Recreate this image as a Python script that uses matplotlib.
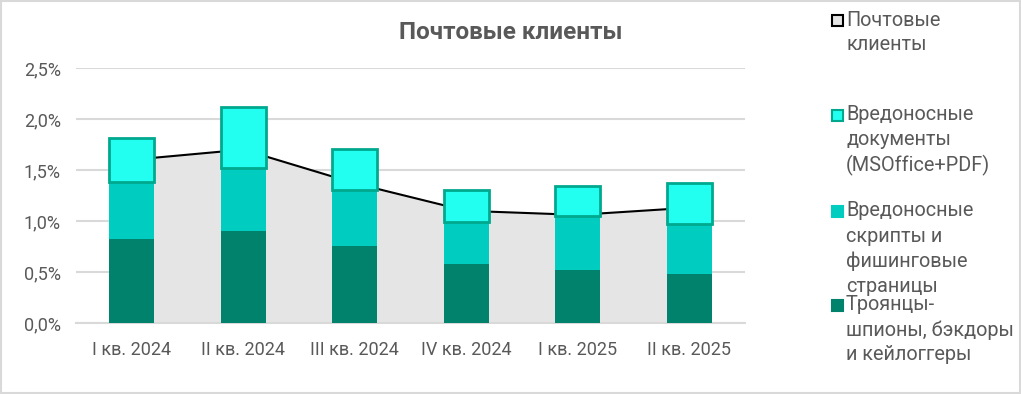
import matplotlib
matplotlib.use("Agg")
import matplotlib.pyplot as plt
from matplotlib.patches import Rectangle
from matplotlib.ticker import FuncFormatter

plt.rcParams['font.family'] = ['Roboto', 'DejaVu Sans']

# Данные (в процентах)
kvartaly = ['I кв. 2024', 'II кв. 2024', 'III кв. 2024', 'IV кв. 2024', 'I кв. 2025', 'II кв. 2025']
pochtovye = [1.60, 1.70, 1.37, 1.10, 1.06, 1.13]
trojany = [0.82, 0.90, 0.755, 0.58, 0.52, 0.48]
skripty = [0.565, 0.62, 0.545, 0.41, 0.53, 0.49]
dokumenty = [0.43, 0.60, 0.41, 0.31, 0.29, 0.40]

leyenda = [['Почтовые', 'клиенты'],
           ['Вредоносные', 'документы', '(MSOffice+PDF)'],
           ['Вредоносные', 'скрипты и', 'фишинговые', 'страницы'],
           ['Троянцы-', 'шпионы, бэкдоры', 'и кейлоггеры']]

c_dark = '#00826C'
c_mid = '#00CCC0'
c_top = '#22FFF0'
c_edge = '#00A88E'
c_area = '#E5E5E5'
c_text = '#595959'
c_grid = '#D9D9D9'

fig = plt.figure(figsize=(10.21, 3.94), dpi=100)
ax = fig.add_axes([0.0744, 0.1802, 0.6553, 0.6472])

x = list(range(len(kvartaly)))
ax.fill_between(x, pochtovye, 0, color=c_area, zorder=1, linewidth=0)
ax.plot(x, pochtovye, color='black', linewidth=1.5, zorder=2)

w = 0.4
ax.bar(x, trojany, width=w, color=c_dark, zorder=3)
ax.bar(x, skripty, width=w, bottom=trojany, color=c_mid, zorder=3)
base3 = [a + b for a, b in zip(trojany, skripty)]
ax.bar(x, dokumenty, width=w, bottom=base3, color=c_top, edgecolor=c_edge,
       linewidth=2, zorder=4)

ax.set_xlim(-0.5, len(kvartaly) - 0.5)
ax.set_ylim(0, 2.5)
ax.set_yticks([0, 0.5, 1.0, 1.5, 2.0, 2.5])
ax.yaxis.set_major_formatter(FuncFormatter(lambda v, p: f'{v:.1f}%'.replace('.', ',')))
ax.set_xticks(x)
ax.set_xticklabels(kvartaly)
ax.tick_params(axis='both', length=0, colors=c_text, labelsize=13)
ax.tick_params(axis='x', pad=13)
ax.tick_params(axis='y', pad=11)
ax.grid(axis='y', color=c_grid, linewidth=1.5, zorder=0)
ax.set_axisbelow(True)
for s in ['top', 'right', 'left']:
    ax.spines[s].set_visible(False)
ax.spines['bottom'].set_color(c_grid)
ax.spines['bottom'].set_linewidth(1.5)

fig.text(0.5, 0.918, 'Почтовые клиенты', ha='center', va='center',
         fontsize=17.5, fontweight='bold', color=c_text)

# Leyenda manual
W, H = 1021, 394
colores = [(c_area, 'black'), (c_top, c_edge), (c_mid, c_mid), (c_dark, c_dark)]
primeras = [20, 115, 211, 305]
for (fc, ec), y0, lineas in zip(colores, primeras, leyenda):
    fig.patches.append(Rectangle((832 / W, 1 - (y0 + 6) / H), 11 / W, 11 / H,
                                 facecolor=fc, edgecolor=ec, linewidth=1.5,
                                 transform=fig.transFigure, figure=fig))
    for i, t in enumerate(lineas):
        fig.text(846 / W, 1 - (y0 + i * 25) / H, t, ha='left', va='center',
                 fontsize=14.3, color=c_text)

fig.patches.append(Rectangle((0.001, 0.002), 0.998, 0.996, fill=False,
                             edgecolor=c_grid, linewidth=1.5,
                             transform=fig.transFigure, figure=fig))

fig.savefig('out.png', dpi=100)
